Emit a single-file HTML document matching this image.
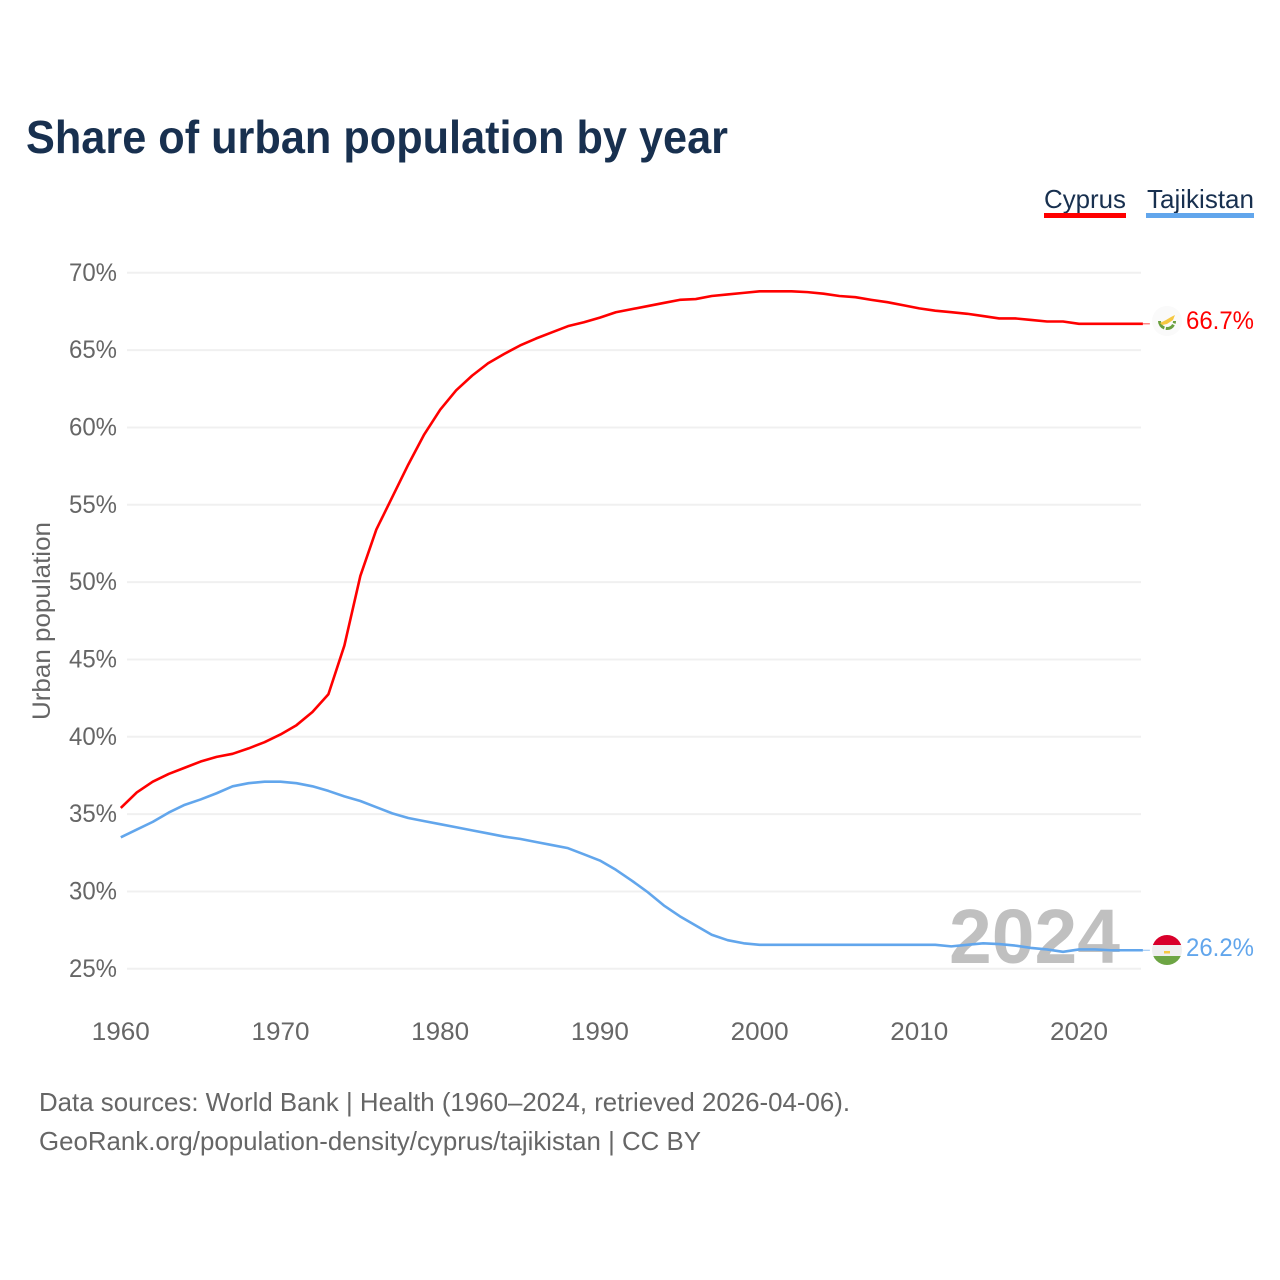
<!DOCTYPE html>
<html lang="en">
<head>
<meta charset="utf-8">
<title>Share of urban population by year</title>
<style>
html,body{margin:0;padding:0;background:#fff;}
svg{display:block;}
text{font-family:"Liberation Sans",sans-serif;}
</style>
</head>
<body>
<svg id="chart" xmlns="http://www.w3.org/2000/svg" width="1280" height="1280" viewBox="0 0 1280 1280">
  <rect width="1280" height="1280" fill="#fff"/>
  <text x="26" y="153" font-size="46" font-weight="700" fill="#18304f" textLength="702" lengthAdjust="spacingAndGlyphs">Share of urban population by year</text>

  <g>
    <text x="1044" y="208" font-size="26" fill="#18304f" textLength="82" lengthAdjust="spacingAndGlyphs">Cyprus</text>
    <rect x="1044" y="213" width="82" height="5" fill="#ff0000"/>
  </g>
  <g>
    <text x="1147" y="208" font-size="26" fill="#18304f" textLength="107" lengthAdjust="spacingAndGlyphs">Tajikistan</text>
    <rect x="1146" y="213" width="108" height="5" fill="#62a6ec"/>
  </g>

  <g id="grid"></g>
  <g id="yticks"></g>
  <g id="xticks"></g>
  <text transform="translate(50,621) rotate(-90)" text-anchor="middle" font-size="25" fill="#666" textLength="198" lengthAdjust="spacingAndGlyphs">Urban population</text>

  <text x="1120" y="963" text-anchor="end" font-size="77" font-weight="700" fill="#c0c0c0" textLength="171" lengthAdjust="spacingAndGlyphs">2024</text>

  <g id="lines"></g>

  <g>
    <circle cx="1167" cy="321" r="15" fill="#fafafa"/>
    <path d="M1159.500 321 A7.500 7.500 0 0 0 1174.500 321" fill="none" stroke="#6a9f3f" stroke-width="3" stroke-dasharray="9 1.500"/>
    <path d="M1160 323 L1166 320 L1171 317 L1175 315 L1173 320 L1167 324 L1162 325 Z" fill="#f5c842"/>
  </g>
  <g>
    <clipPath id="tj"><circle cx="1167" cy="950" r="15"/></clipPath>
    <g clip-path="url(#tj)">
      <rect x="1152" y="935" width="30" height="10" fill="#d9002b"/>
      <rect x="1152" y="945" width="30" height="11" fill="#efefef"/>
      <rect x="1152" y="956" width="30" height="10" fill="#6da544"/>
      <rect x="1164" y="951" width="6" height="2.500" fill="#f5c842"/>
    </g>
  </g>

  <text id="val-cyprus" x="1254" y="329" text-anchor="end" font-size="25" fill="#ff0000" textLength="68" lengthAdjust="spacingAndGlyphs">66.7%</text>
  <text id="val-tajikistan" x="1254" y="956" text-anchor="end" font-size="25" fill="#62a6ec" textLength="68" lengthAdjust="spacingAndGlyphs">26.2%</text>

  <text x="39" y="1111" font-size="26" fill="#666" textLength="811" lengthAdjust="spacingAndGlyphs">Data sources: World Bank | Health (1960–2024, retrieved 2026-04-06).</text>
  <text x="39" y="1150" font-size="26" fill="#666" textLength="662" lengthAdjust="spacingAndGlyphs">GeoRank.org/population-density/cyprus/tajikistan | CC BY</text>
</svg>
<script>
const startYear = 1960;
const yTickValues = [25, 30, 35, 40, 45, 50, 55, 60, 65, 70];
const xTickValues = [1960, 1970, 1980, 1990, 2000, 2010, 2020];
const cyprusValues = [35.4,36.4,37.1,37.6,38.0,38.4,38.7,38.9,39.25,39.65,40.15,40.75,41.6,42.75,45.9,50.4,53.4,55.5,57.6,59.55,61.15,62.4,63.35,64.15,64.75,65.3,65.75,66.15,66.55,66.8,67.1,67.45,67.65,67.85,68.05,68.25,68.3,68.5,68.6,68.7,68.8,68.8,68.8,68.75,68.65,68.5,68.42,68.25,68.1,67.9,67.7,67.55,67.45,67.35,67.2,67.05,67.05,66.95,66.85,66.85,66.7,66.7,66.7,66.7,66.7];
const tajikistanValues = [33.5,34.0,34.5,35.1,35.6,35.95,36.35,36.8,37.0,37.1,37.1,37.0,36.8,36.5,36.15,35.85,35.45,35.05,34.75,34.55,34.35,34.15,33.95,33.75,33.55,33.4,33.2,33.0,32.8,32.4,32.0,31.4,30.7,29.95,29.1,28.4,27.8,27.2,26.85,26.65,26.55,26.55,26.55,26.55,26.55,26.55,26.55,26.55,26.55,26.55,26.55,26.55,26.45,26.55,26.65,26.6,26.5,26.35,26.25,26.1,26.25,26.25,26.2,26.2,26.2];

const NS = 'http://www.w3.org/2000/svg';
function xScale(year) { return 120.8 + (year - 1960) * 15.97; }
function yScale(v) { return 968.8 - (v - 25) * 15.467; }
function make(tag, attrs, parent, text) {
  const el = document.createElementNS(NS, tag);
  for (const k in attrs) el.setAttribute(k, attrs[k]);
  if (text !== undefined) el.textContent = text;
  parent.appendChild(el);
  return el;
}
const grid = document.getElementById('grid');
const yticks = document.getElementById('yticks');
const xticks = document.getElementById('xticks');
const lines = document.getElementById('lines');

yTickValues.forEach(function (v) {
  const y = yScale(v);
  const g = make('line', {x1: 127, x2: 1141, y1: y, y2: y, stroke: '#f0f0f0', 'stroke-width': 2}, grid);
  
  
  const t = make('text', {x: 117, y: y + 8, 'text-anchor': 'end', 'font-size': 25, fill: '#666', textLength: 48, lengthAdjust: 'spacingAndGlyphs'}, yticks, v + '%');
  
  
});
xTickValues.forEach(function (yr) {
  const t = make('text', {x: xScale(yr), y: 1040, 'text-anchor': 'middle', 'font-size': 25, fill: '#666', textLength: 58, lengthAdjust: 'spacingAndGlyphs'}, xticks, String(yr));
  
  
});
function drawSeries(values, color, name) {
  const pts = values.map(function (v, i) { return xScale(startYear + i).toFixed(2) + ',' + yScale(v).toFixed(2); });
  const p = make('polyline', {points: pts.join(' '), fill: 'none', stroke: color, 'stroke-width': 2.6, 'stroke-linejoin': 'round'}, lines);
  
  
  const last = values[values.length - 1];
  const xEnd = xScale(startYear + values.length - 1);
  const c = make('line', {x1: xEnd, x2: xEnd + 7, y1: yScale(last), y2: yScale(last), stroke: color, 'stroke-width': 1, opacity: 0.7}, lines);
  
  
}
drawSeries(tajikistanValues, '#62a6ec', 'line-tajikistan');
drawSeries(cyprusValues, '#ff0000', 'line-cyprus');
document.getElementById('val-cyprus').textContent = cyprusValues[cyprusValues.length - 1].toFixed(1) + '%';
document.getElementById('val-tajikistan').textContent = tajikistanValues[tajikistanValues.length - 1].toFixed(1) + '%';
</script>
</body>
</html>
